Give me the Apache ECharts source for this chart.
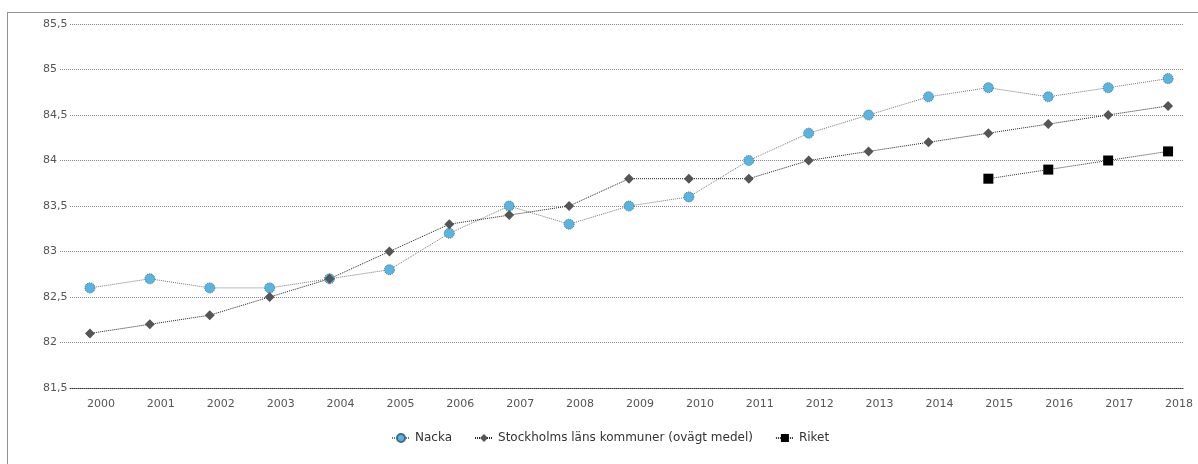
<!DOCTYPE html>
<html><head><meta charset="utf-8">
<script src="https://cdn.jsdelivr.net/npm/echarts@6/dist/echarts.min.js"></script>
<style>html,body{margin:0;padding:0;background:#fff}#c{width:1198px;height:464px}</style>
</head><body><div id="c"></div>
<script>
var years = ['2000','2001','2002','2003','2004','2005','2006','2007','2008','2009','2010','2011','2012','2013','2014','2015','2016','2017','2018'];
var nacka = [82.6,82.7,82.6,82.6,82.7,82.8,83.2,83.5,83.3,83.5,83.6,84.0,84.3,84.5,84.7,84.8,84.7,84.8,84.9];
var stockholm = [82.1,82.2,82.3,82.5,82.7,83.0,83.3,83.4,83.5,83.8,83.8,83.8,84.0,84.1,84.2,84.3,84.4,84.5,84.6];
var riket = [null,null,null,null,null,null,null,null,null,null,null,null,null,null,null,83.8,83.9,84.0,84.1];
var yMin = 81.5, yMax = 85.5, yStep = 0.5;

var font = 'DejaVu Sans, Verdana, sans-serif';
var chart = echarts.init(document.getElementById('c'), null, {renderer:'canvas'});
chart.setOption({
  animation: false,
  backgroundColor: '#fff',
  graphic: [{
    type: 'rect', x: 7.5, y: 12.5, z: -10,
    shape: {x:0, y:0, width: 1220, height: 480},
    style: {fill: 'none', stroke: '#222', lineWidth: 1, lineDash: [1,1]}
  }],
  grid: [
    {left: 60, right: 15, top: 24, bottom: 76},
    {left: 60, right: 0, top: 24, bottom: 76}
  ],
  legend: {
    bottom: 15, left: 386, itemGap: 22, itemWidth: 18, itemHeight: 10,
    textStyle: {fontFamily: font, fontSize: 12, color: '#333'},
    data: ['Nacka','Stockholms läns kommuner (ovägt medel)','Riket']
  },
  xAxis: [
    {gridIndex: 0, type: 'category', data: years, boundaryGap: true,
     axisLine: {show: true, lineStyle: {color: '#333', type: [1,1], width: 1}},
     axisTick: {show: false}, axisLabel: {show: false}, splitLine: {show: false}},
    {gridIndex: 1, type: 'category', data: years, boundaryGap: true,
     axisLine: {show: false}, axisTick: {show: false},
     axisLabel: {margin: 11, fontFamily: font, fontSize: 11, color: '#555', padding: [0,0,0,22]}}
  ],
  yAxis: [
    {gridIndex: 0, type: 'value', min: yMin, max: yMax, interval: yStep,
     axisLine: {show: false}, axisTick: {show: false},
     axisLabel: {align: 'left', margin: 17, fontFamily: font, fontSize: 11, color: '#555',
       backgroundColor: '#fff', padding: [0,2,0,0],
       formatter: function(v){ return String(Math.round(v*10)/10).replace('.', ','); }},
     splitLine: {show: true, lineStyle: {color: '#888', type: [1,1], width: 1}}},
    {gridIndex: 1, type: 'value', min: yMin, max: yMax, interval: yStep, show: false,
     splitLine: {show: false}}
  ],
  series: [
    {name: 'Nacka', type: 'line', xAxisIndex: 1, yAxisIndex: 1, data: nacka,
     symbol: 'circle', symbolSize: 10,
     lineStyle: {color: '#777', width: 1, type: [1,1]},
     itemStyle: {color: '#5AB4E0', borderColor: '#3a6f8c', borderWidth: 1, borderType: [1,1]}},
    {name: 'Stockholms läns kommuner (ovägt medel)', type: 'line', xAxisIndex: 1, yAxisIndex: 1, data: stockholm,
     symbol: 'diamond', symbolSize: 10,
     lineStyle: {color: '#222', width: 1, type: [1,1]},
     itemStyle: {color: '#555', borderColor: '#444', borderWidth: 0}},
    {name: 'Riket', type: 'line', xAxisIndex: 1, yAxisIndex: 1, data: riket,
     symbol: 'rect', symbolSize: 10,
     lineStyle: {color: '#333', width: 1, type: [1,1]},
     itemStyle: {color: '#000'}}
  ]
});
</script></body></html>
